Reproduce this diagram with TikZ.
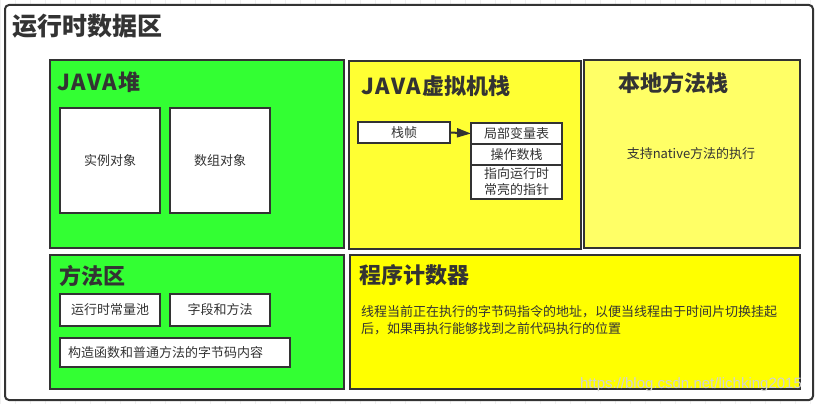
\documentclass[tikz,border=0pt]{standalone}
\usepackage{fontspec}
\setmainfont{Noto Sans CJK SC}
\newfontfamily\markfont{Liberation Sans}
\usetikzlibrary{positioning}
\usetikzlibrary{arrows.meta}

\definecolor{heapgreen}{HTML}{33FF33}
\definecolor{stackyellow}{HTML}{FFFF33}
\definecolor{nativeyellow}{HTML}{FFFF66}
\definecolor{pcyellow}{HTML}{FFFF00}
\definecolor{darkline}{HTML}{333333}

\newcommand{\javaword}{J\kern1.2pt A\kern1.2pt V\kern1.2pt A\kern1.2pt}

\tikzset{
  area/.style={draw=darkline, line width=2pt, anchor=north west, inner sep=0pt, outer sep=0pt},
  areatitle/.style={anchor=base west, inner sep=0pt, text=darkline, font=\bfseries\fontsize{22}{24}\selectfont},
  item/.style={draw=darkline, line width=1.6pt, fill=white, anchor=north west, inner sep=0pt, outer sep=0pt, text=darkline, font=\fontsize{13}{15}\selectfont},
  note/.style={inner sep=0pt, text=darkline, font=\fontsize{13}{17}\selectfont},
}

\begin{document}
\begin{tikzpicture}[x=1pt,y=-1pt]
        \useasboundingbox (0,0) rectangle (819,404);
        \draw[gray!12, line width=0.5pt, xstep=15, ystep=15] (0,0) grid (819,404);
        \draw[darkline, line width=2pt, fill=white, rounded corners=4pt] (5,5) rectangle (813,400);
        \node[anchor=base west, inner sep=0pt, text=darkline, font=\bfseries\fontsize{25}{27}\selectfont] (title) at (12,36) {运行时数据区};

        % JAVA heap
        \node[area, fill=heapgreen, minimum width=294, minimum height=188] (heap) at (50,60) {};
        \node[areatitle] (heaptitle) at (57,90) {\javaword 堆};
        \node[item, minimum width=100, minimum height=105] (inst) at (60,108) {实例对象};
        \node[item, minimum width=100, minimum height=105] (arr) at (170,108) {数组对象};

        % JVM stack
        \node[area, fill=stackyellow, minimum width=232, minimum height=188] (vmstack) at (349,61) {};
        \node[areatitle] (vmtitle) at (361,94) {\javaword 虚拟机栈};
        \node[item, minimum width=92, minimum height=21] (frame) at (358,122) {栈帧};
        \node[item, minimum width=91, minimum height=21] (locals) at (471,123) {局部变量表};
        \node[item, minimum width=91, minimum height=21] (operand) at (471,144) {操作数栈};
        \node[item, minimum width=91, minimum height=34, align=center, font=\fontsize{13}{16}\selectfont] (ptr) at (471,165) {指向运行时\\常亮的指针};
        \draw[darkline, line width=2pt, -{Triangle[length=14pt,width=9pt]}] (frame.east) -- (locals.west);

        % native method stack
        \node[area, fill=nativeyellow, minimum width=216, minimum height=188] (native) at (584,60) {};
        \node[areatitle] (nativetitle) at (618,91) {本地方法栈};
        \node[note] (nativenote) at (691,154) {支持native方法的执行};

        % method area
        \node[area, fill=heapgreen, minimum width=294, minimum height=134] (method) at (50,255) {};
        \node[areatitle] (methodtitle) at (59,284) {方法区};
        \node[item, minimum width=100, minimum height=32] (pool) at (60,294) {运行时常量池};
        \node[item, minimum width=100, minimum height=32] (fields) at (170,294) {字段和方法};
        \node[item, minimum width=230, minimum height=29, text width=214, align=left] (code) at (60,338) {构造函数和普通方法的字节码内容};

        % program counter
        \node[area, fill=pcyellow, minimum width=450, minimum height=134] (pc) at (350,255) {};
        \node[areatitle] (pctitle) at (359,283) {程序计数器};
        \node[note, anchor=north west, align=left] (pcnote) at (361,305) {线程当前正在执行的字节码指令的地址，以便当线程由于时间片切换挂起\\后，如果再执行能够找到之前代码执行的位置};

        \node[inner sep=0pt, text=gray!35, font=\markfont\fontsize{15}{17}\selectfont] (mark) at (691,385) {https://blog.csdn.net/lichking2015};
      \end{tikzpicture}
\end{document}
